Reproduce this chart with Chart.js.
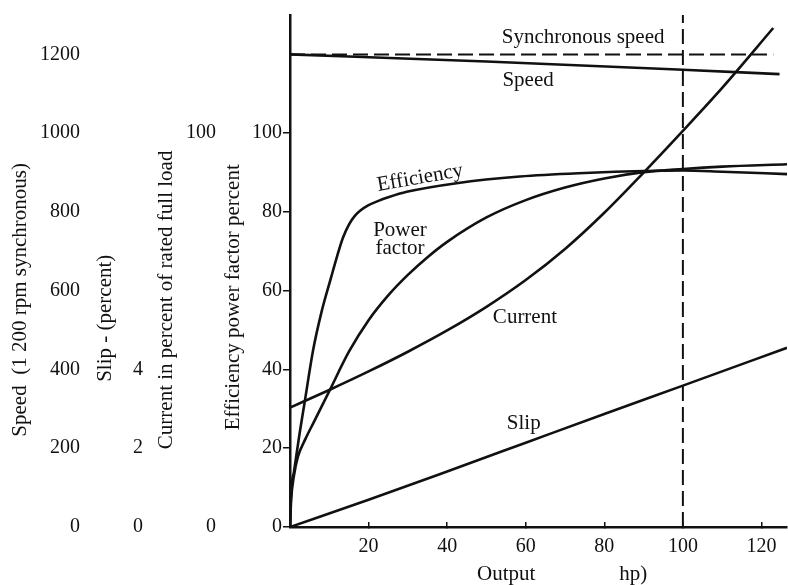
<!DOCTYPE html>
<html>
<head>
<meta charset="utf-8">
<title>Induction motor performance curves</title>
<script src="https://cdn.jsdelivr.net/npm/chart.js@4.4.1/dist/chart.umd.min.js"></script>
<style>
  html, body { margin: 0; padding: 0; background: #fff; }
  #wrap { width: 788px; height: 585px; }
</style>
</head>
<body>
<div id="wrap"><canvas id="motorChart" width="788" height="585"></canvas></div>
<script>
'use strict';

// ── Curves (x = output in hp) ─────────────────────────────
const effHp       = [0, 0.3, 1, 2.4, 3.7, 5.9, 8, 10.5, 12, 13.5, 15, 16.5, 18, 20, 22.5, 25, 29.7, 42.4, 58.5, 75, 90, 100, 110, 126.5];
const efficiency  = [0, 9, 14, 23.5, 31.5, 45, 54.5, 63.5, 68.8, 73.5, 76.8, 79, 80.4, 81.7, 82.8, 83.7, 85.1, 87.3, 89, 89.9, 90.4, 90.5, 90.2, 89.6];

const pfHp        = [0, 0.3, 1, 2, 4, 6, 10, 15, 20, 25, 30, 35, 40, 50, 60, 70, 80, 90, 100, 110, 126.5];
const powerFactor = [0, 7, 13, 17.8, 22.5, 26.5, 34.5, 44.5, 52.5, 58.8, 64, 68.5, 72.4, 78.6, 83, 86.2, 88.5, 90.1, 90.9, 91.5, 92.1];

const currentHp   = [0, 10, 20, 30, 40, 50, 60, 70, 80, 90, 100, 110, 123];
const current     = [30.3, 34.8, 39.5, 44.5, 49.9, 55.9, 62.7, 70.6, 79.8, 90, 100.6, 111.5, 126.7];

const slipHp      = [0, 20, 40, 60, 80, 100, 126.5];
const slip        = [0, 0.69, 1.41, 2.14, 2.87, 3.59, 4.55];

const speedHp     = [0, 50, 100, 124.6];
const speed       = [1200, 1182, 1161, 1150];

const syncHp      = [0, 123];
const syncSpeed   = [1200, 1200];

const ratedHp     = [100, 100];
const ratedSpan   = [0, 130];

// ── Tick labels ──────────────────────────────────────────
const HP_TICKS      = [20, 40, 60, 80, 100, 120];
const SPEED_TICKS   = [0, 200, 400, 600, 800, 1000, 1200];
const SLIP_TICKS    = [0, 2, 4];
const CURRENT_TICKS = [0, 100];
const EFF_TICKS     = [0, 20, 40, 60, 80, 100];

// curve captions, anchored in output hp / percent units
const CURVE_LABELS = [
    { text: 'Synchronous speed', hp: 74.6, pct: 124.4 },
    { text: 'Speed',             hp: 60.6, pct: 113.5 },
    { text: 'Efficiency',        hp: 33.1, pct: 88.6, angle: -10 },
    { text: 'Power',             hp: 28.0, pct: 75.4 },
    { text: 'factor',            hp: 28.0, pct: 70.6 },
    { text: 'Current',           hp: 59.8, pct: 53.3 },
    { text: 'Slip',              hp: 59.5, pct: 26.4 },
];

const INK   = '#111';
const SERIF = "'Liberation Serif', 'DejaVu Serif', serif";

Chart.defaults.color = INK;
Chart.defaults.font.family = SERIF;
Chart.defaults.font.size = 20;

const pts = (xs, ys) => xs.map((x, i) => ({ x, y: ys[i] }));
const fixedTicks = values => scale => { scale.ticks = values.map(value => ({ value })); };
const plainLabel = v => String(v);

function curve(data, axis, extra) {
    return {
        data, yAxisID: axis,
        borderColor: INK, borderWidth: 2.6,
        pointRadius: 0, fill: false,
        cubicInterpolationMode: 'monotone',
        ...extra,
    };
}

const dashed = { borderWidth: 2, borderDash: [15, 6], cubicInterpolationMode: 'default', tension: 0 };

// one of the stacked left axes: [title][ticks] in a fixed-width box
function leftAxis(weight, max, ticks, title, width, titlePad, tickPad, extra) {
    return {
        type: 'linear', position: 'left', weight,
        min: 0, max,
        afterBuildTicks: fixedTicks(ticks),
        afterFit: s => { s.width = width; s.paddingTop = 0; s.paddingBottom = 0; },
        ticks: { padding: tickPad, color: INK, callback: plainLabel },
        grid: { display: false, drawTicks: false },
        border: { display: false },
        title: { display: true, text: title, color: INK, padding: { top: titlePad, bottom: 0 }, font: { size: 21, lineHeight: 1 } },
        ...extra,
    };
}

// ── Caption plugin ────────────────────────────────────────
const curveLabels = {
    id: 'curveLabels',
    afterDatasetsDraw(chart) {
        const { ctx, scales: { x, yEff } } = chart;
        ctx.save();
        ctx.fillStyle = INK;
        ctx.font = `21px ${SERIF}`;
        ctx.textAlign = 'center';
        ctx.textBaseline = 'middle';
        CURVE_LABELS.forEach(l => {
            ctx.save();
            ctx.translate(x.getPixelForValue(l.hp), yEff.getPixelForValue(l.pct));
            ctx.rotate((l.angle || 0) * Math.PI / 180);
            ctx.fillText(l.text, 0, 0);
            ctx.restore();
        });
        ctx.restore();
    }
};

// ── Chart ────────────────────────────────────────────────
new Chart(document.getElementById('motorChart').getContext('2d'), {
    type: 'line',
    data: {
        datasets: [
            curve(pts(effHp, efficiency), 'yEff'),
            curve(pts(pfHp, powerFactor), 'yEff'),
            curve(pts(currentHp, current), 'yCurrent'),
            curve(pts(slipHp, slip), 'ySlip'),
            curve(pts(speedHp, speed), 'ySpeed'),
            curve(pts(syncHp, syncSpeed), 'ySpeed', dashed),
            curve(pts(ratedHp, ratedSpan), 'yEff', dashed),
        ]
    },
    options: {
        responsive: false,
        animation: false,
        layout: { padding: { top: 15, right: 1, bottom: 0, left: 0 } },
        plugins: { legend: { display: false }, tooltip: { enabled: false } },
        scales: {
            x: {
                type: 'linear', min: 0, max: 126.5,
                afterBuildTicks: fixedTicks(HP_TICKS),
                afterFit: s => { s.height = 58; s.paddingLeft = 0; s.paddingRight = 0; },
                ticks: { padding: 13, color: INK, callback: plainLabel },
                grid: { display: true, drawOnChartArea: false, drawTicks: true, tickLength: -5, color: INK, lineWidth: 1.5 },
                border: { display: true, color: INK, width: 2.5 },
                title: { display: true, text: '         Output                hp)', color: INK, padding: { top: 0, bottom: 0 }, font: { size: 21, lineHeight: 1 } },
            },
            ySpeed:   leftAxis(3, 1300, SPEED_TICKS,   'Speed  (1 200 rpm synchronous)           ', 92, 9.5, 12),
            ySlip:    leftAxis(2, 13,   SLIP_TICKS,    'Slip - (percent)                  ',          60, 2.5, 9),
            yCurrent: leftAxis(1, 130,  CURRENT_TICKS, 'Current in percent of rated full load           ', 70, 3.5, 6),
            yEff:     leftAxis(0, 130,  EFF_TICKS,     'Efficiency power factor percent          ', 68, 0.5, 1, {
                grid: { display: true, drawOnChartArea: false, drawTicks: true, tickLength: 7, color: INK, lineWidth: 1.5 },
                border: { display: true, color: INK, width: 2.5 },
            }),
        }
    },
    plugins: [curveLabels]
});
</script>
</body>
</html>
